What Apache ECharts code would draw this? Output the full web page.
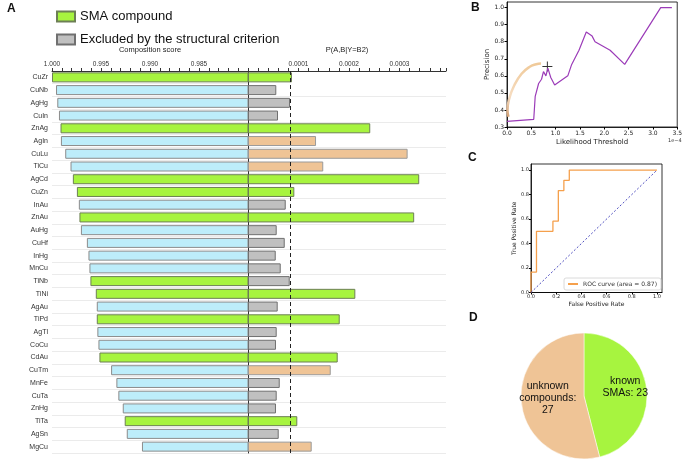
<!DOCTYPE html>
<html><head><meta charset="utf-8">
<script src="https://cdn.jsdelivr.net/npm/echarts@6/dist/echarts.min.js"></script>
<style>html,body{margin:0;padding:0;background:#fff}#c{width:685px;height:461px}</style>
</head><body><div id="c"></div>
<script>
// ---------- Panel A data ----------
const compounds = ['CuZr','CuNb','AgHg','CuIn','ZnAg','AgIn','CuLu','TiCu','AgCd','CuZn','InAu','ZnAu','AuHg','CuHf','InHg','MnCu','TiNb','TiNi','AgAu','TiPd','AgTl','CoCu','CdAu','CuTm','MnFe','CuTa','ZnHg','TiTa','AgSn','MgCu'];
const compositionScore = [1.0000,0.99959,0.99946,0.99929,0.99913,0.99909,0.99865,0.99811,0.99787,0.99746,0.99726,0.99720,0.99705,0.99644,0.99628,0.99618,0.99608,0.99553,0.99543,0.99543,0.99537,0.99526,0.99516,0.99397,0.99343,0.99323,0.99278,0.99258,0.99237,0.99082];
// P(A,B|Y=B2) in units of 1e-4
const likelihood = [0.871,0.560,0.832,0.594,2.42,1.347,3.16,1.49,3.39,0.917,0.747,3.29,0.568,0.727,0.549,0.648,0.826,2.125,0.588,1.816,0.568,0.554,1.776,1.638,0.628,0.568,0.554,0.976,0.608,1.261];
const isSMA = [1,0,0,0,1,0,0,0,1,1,0,1,0,0,0,0,1,1,0,1,0,0,1,0,0,0,0,1,0,0];
// right-side class: s = SMA compound, e = excluded by structural criterion, u = unknown
const rightClass = ['s','e','e','e','s','u','u','u','s','s','e','s','e','e','e','e','e','s','e','s','e','e','s','u','e','e','e','s','e','u'];
const thresholdLikelihood = 0.835; // 1e-4
const leftTicks = [0.980, 1.000];
const rightTicksMax = 3.92;

// ---------- Panel B data ----------
const thrX = [0.00,0.55,0.58,0.65,0.71,0.75,0.80,0.84,0.90,0.98,1.25,1.33,1.48,1.63,1.75,1.81,2.12,2.42,3.16,3.39];
const precY = [0.333,0.345,0.48,0.555,0.58,0.625,0.60,0.645,0.59,0.546,0.60,0.667,0.75,0.857,0.833,0.80,0.75,0.667,1.0,1.0];
const chosenPoint = [0.83, 0.655];
const arrowX = [0.70,0.60,0.46,0.30,0.15,0.05,0.01,0.03];
const arrowY = [0.672,0.668,0.652,0.612,0.545,0.47,0.40,0.36];

// ---------- Panel C data ----------
const rocFpr = [0,0,0.0435,0.0435,0.174,0.174,0.217,0.217,0.261,0.261,0.304,0.304,1.0];
const rocTpr = [0,0.167,0.167,0.5,0.5,0.583,0.583,0.833,0.833,0.917,0.917,1.0,1.0];
const rocAuc = 0.87;

// ---------- Panel D data ----------
const pieNames = ['known\nSMAs', 'unknown\ncompounds'];
const pieValues = [23, 27];

const GREEN = '#a7f43f', BLUE = '#bdedfa', GRAY = '#c0c0c0', PEACH = '#efc496';
const AR = 'Liberation Sans', DV = 'DejaVu Sans';

const leftSMA = compositionScore.map((v,i)=> isSMA[i] ? v : '-');
const leftOther = compositionScore.map((v,i)=> isSMA[i] ? '-' : v);
const rS = likelihood.map((v,i)=> rightClass[i]==='s' ? v : '-');
const rE = likelihood.map((v,i)=> rightClass[i]==='e' ? v : '-');
const rU = likelihood.map((v,i)=> rightClass[i]==='u' ? v : '-');

const gridTop = 71, gridH = 382;
const catAxisBase = {
  type:'category', data: compounds, inverse:true,
  axisTick:{show:false},
  splitLine:{show:true, lineStyle:{color:'#ebebeb', width:1}}
};
const barBase = { type:'bar', barWidth:10, barGap:'-100%', clip:true };
const plusPath = 'path://M4.5,0h1v4.5h4.5v1h-4.5v4.5h-1v-4.5h-4.5v-1h4.5z';

const chart = echarts.init(document.getElementById('c'), null, {renderer:'canvas'});
chart.setOption({
  animation:false,
  backgroundColor:'#fff',
  title: [
    {text:'A', left:7, top:3, padding:0, textStyle:{fontSize:12, fontWeight:'bold', fontFamily:AR, color:'#111'}},
    {text:'B', left:471, top:2, padding:0, textStyle:{fontSize:12, fontWeight:'bold', fontFamily:AR, color:'#111'}},
    {text:'C', left:468, top:152, padding:0, textStyle:{fontSize:12, fontWeight:'bold', fontFamily:AR, color:'#111'}},
    {text:'D', left:469, top:312, padding:0, textStyle:{fontSize:12, fontWeight:'bold', fontFamily:AR, color:'#111'}}
  ],
  legend: [
    {data:['SMA compound','Excluded by the structural criterion'], orient:'vertical', left:56, top:10,
     icon:'rect', itemWidth:18, itemHeight:10, itemGap:10, padding:0,
     textStyle:{fontSize:13, fontFamily:AR, color:'#111'}},
    {data:['ROC curve (area = ' + rocAuc.toFixed(2) + ')'], right:24, bottom:171, itemWidth:10, itemHeight:2,
     icon:'rect', padding:[3,4], borderColor:'#d0d0d0', borderWidth:0.8, borderRadius:2,
     textStyle:{fontSize:6, fontFamily:DV, color:'#333'}}
  ],
  grid: [
    {left:52, top:gridTop, width:196, height:gridH},
    {left:248, top:gridTop, width:198, height:gridH},
    {left:507, top:2, width:172, height:125, show:true, borderColor:'#000', borderWidth:0.8},
    {left:531, top:164, width:131, height:128.5, show:true, borderColor:'#000', borderWidth:0.8}
  ],
  xAxis: [
    {gridIndex:0, type:'value', position:'top', inverse:true, min:leftTicks[0], max:leftTicks[1], interval:0.005,
     name:'Composition score', nameLocation:'middle', nameGap:17,
     nameTextStyle:{fontSize:7.5, fontFamily:AR, color:'#222'},
     axisLine:{show:true, onZero:false, lineStyle:{color:'#333', width:1}},
     axisTick:{show:true, length:3, lineStyle:{color:'#333'}},
     minorTick:{show:true, splitNumber:5, length:3, lineStyle:{color:'#333'}},
     splitLine:{show:false},
     axisLabel:{fontSize:6.5, fontFamily:AR, color:'#333', margin:3,
       formatter:v=> Math.abs(v-leftTicks[0])<1e-9 ? '' : v.toFixed(3)}},
    {gridIndex:1, type:'value', position:'top', min:0, max:rightTicksMax, interval:1,
     name:'P(A,B|Y=B2)', nameLocation:'middle', nameGap:17,
     nameTextStyle:{fontSize:7.5, fontFamily:AR, color:'#222'},
     axisLine:{show:true, onZero:false, lineStyle:{color:'#333', width:1}},
     axisTick:{show:true, length:3, lineStyle:{color:'#333'}},
     minorTick:{show:true, splitNumber:5, length:3, lineStyle:{color:'#333'}},
     splitLine:{show:false},
     axisLabel:{fontSize:6.5, fontFamily:AR, color:'#333', margin:3, showMaxLabel:false,
       formatter:v=> v===0 ? '' : (v/10000).toFixed(4)}},
    {gridIndex:2, type:'value', min:0, max:3.5, interval:0.5,
     name:'Likelihood Threshold', nameLocation:'middle', nameGap:12,
     nameTextStyle:{fontSize:7, fontFamily:DV, color:'#222'},
     axisLine:{show:true, onZero:false, lineStyle:{color:'#000', width:0.8}},
     axisTick:{length:2.5, lineStyle:{color:'#000'}}, splitLine:{show:false},
     axisLabel:{fontSize:6, fontFamily:DV, color:'#222', margin:3, formatter:v=>v.toFixed(1)}},
    {gridIndex:3, type:'value', min:0, max:1.04, interval:0.2,
     name:'False Positive Rate', nameLocation:'middle', nameGap:9,
     nameTextStyle:{fontSize:6, fontFamily:DV, color:'#222'},
     axisLine:{show:true, onZero:false, lineStyle:{color:'#000', width:0.8}},
     axisTick:{length:2, lineStyle:{color:'#000'}}, splitLine:{show:false},
     axisLabel:{fontSize:5, fontFamily:DV, color:'#222', margin:2, showMaxLabel:false, formatter:v=>v.toFixed(1)}}
  ],
  yAxis: [
    Object.assign({gridIndex:0, axisLine:{show:false},
      axisLabel:{fontSize:7, fontFamily:AR, color:'#333', margin:4}}, catAxisBase),
    Object.assign({gridIndex:1, axisLine:{show:true, lineStyle:{color:'#333', width:1}},
      axisLabel:{show:false}}, catAxisBase),
    {gridIndex:2, type:'value', min:0.3, max:1.033, interval:0.1,
     name:'Precision', nameLocation:'middle', nameGap:15,
     nameTextStyle:{fontSize:7, fontFamily:DV, color:'#222'},
     axisLine:{show:true, onZero:false, lineStyle:{color:'#000', width:0.8}},
     axisTick:{length:2.5, lineStyle:{color:'#000'}}, splitLine:{show:false},
     axisLabel:{fontSize:6, fontFamily:DV, color:'#222', margin:3, showMaxLabel:false, formatter:v=>v.toFixed(1)}},
    {gridIndex:3, type:'value', min:0, max:1.05, interval:0.2,
     name:'True Positive Rate', nameLocation:'middle', nameGap:12,
     nameTextStyle:{fontSize:6, fontFamily:DV, color:'#222'},
     axisLine:{show:true, onZero:false, lineStyle:{color:'#000', width:0.8}},
     axisTick:{length:2, lineStyle:{color:'#000'}}, splitLine:{show:false},
     axisLabel:{fontSize:5, fontFamily:DV, color:'#222', margin:2, showMaxLabel:false, formatter:v=>v.toFixed(1)}}
  ],
  graphic: [
    {type:'text', left:668, top:138, style:{text:'1e\u22124', fontSize:5, fontFamily:DV, fill:'#333'}}
  ],
  series: [
    Object.assign({name:'SMA compound', xAxisIndex:0, yAxisIndex:0, data:leftSMA,
      itemStyle:{color:GREEN, borderColor:'#6d7f55', borderWidth:1}}, barBase),
    Object.assign({name:'Other', xAxisIndex:0, yAxisIndex:0, data:leftOther,
      itemStyle:{color:BLUE, borderColor:'#8c8c8c', borderWidth:1}}, barBase),
    Object.assign({name:'SMA compound', xAxisIndex:1, yAxisIndex:1, data:rS,
      itemStyle:{color:GREEN, borderColor:'#6d7f55', borderWidth:1}}, barBase),
    Object.assign({name:'Excluded by the structural criterion', xAxisIndex:1, yAxisIndex:1, data:rE,
      itemStyle:{color:GRAY, borderColor:'#707070', borderWidth:1}}, barBase),
    Object.assign({name:'Unknown', xAxisIndex:1, yAxisIndex:1, data:rU,
      itemStyle:{color:PEACH, borderColor:'#9a9a9a', borderWidth:1},
      markLine:{silent:true, symbol:'none', label:{show:false},
        lineStyle:{color:'#222', type:[4,3], width:1},
        data:[{xAxis:thresholdLikelihood}]}}, barBase),
    {type:'line', name:'precision', xAxisIndex:2, yAxisIndex:2, symbol:'none',
     data: thrX.map((x,i)=>[x, precY[i]]), lineStyle:{color:'#9b3bb8', width:1.2}},
    {type:'line', name:'arrow', xAxisIndex:2, yAxisIndex:2, symbol:'none', smooth:0.5,
     data: arrowX.map((x,i)=>[x, arrowY[i]]),
     lineStyle:{width:2.5, color:new echarts.graphic.LinearGradient(0,0,0,1,[
       {offset:0, color:'#efc896'},{offset:0.6, color:'#f6dcc0'},{offset:1, color:'#cf9a6c'}])}},
    {type:'scatter', name:'chosen', xAxisIndex:2, yAxisIndex:2, symbol:plusPath, symbolSize:10,
     data:[chosenPoint], itemStyle:{color:'#000'}},
    {type:'line', name:'ROC curve (area = ' + rocAuc.toFixed(2) + ')', xAxisIndex:3, yAxisIndex:3, symbol:'none',
     data: rocFpr.map((x,i)=>[x, rocTpr[i]]), lineStyle:{color:'#f5a04c', width:1.3}, itemStyle:{color:'#f5a04c'}},
    {type:'line', name:'diag', xAxisIndex:3, yAxisIndex:3, symbol:'none',
     data:[[0,0],[1,1]], lineStyle:{color:'#3a3ab8', width:0.9, type:[2,2]}},
    {type:'pie', name:'pie', center:[584,396], radius:63, startAngle:90, clockwise:true,
     data: pieNames.map((n,i)=>({name:n, value:pieValues[i], itemStyle:{color:[GREEN,PEACH][i]}})),
     itemStyle:{borderColor:'#fff', borderWidth:0.5},
     label:{position:'inside', fontSize:10.5, lineHeight:12, fontFamily:AR, color:'#111',
       formatter:p=> p.name + ':' + (p.dataIndex===0 ? ' ' : '\n') + p.value},
     labelLayout:p=> p.dataIndex===0 ? {dx:7, dy:-5} : {dx:-2, dy:-2},
     labelLine:{show:false}}
  ]
});
</script>
</body></html>
